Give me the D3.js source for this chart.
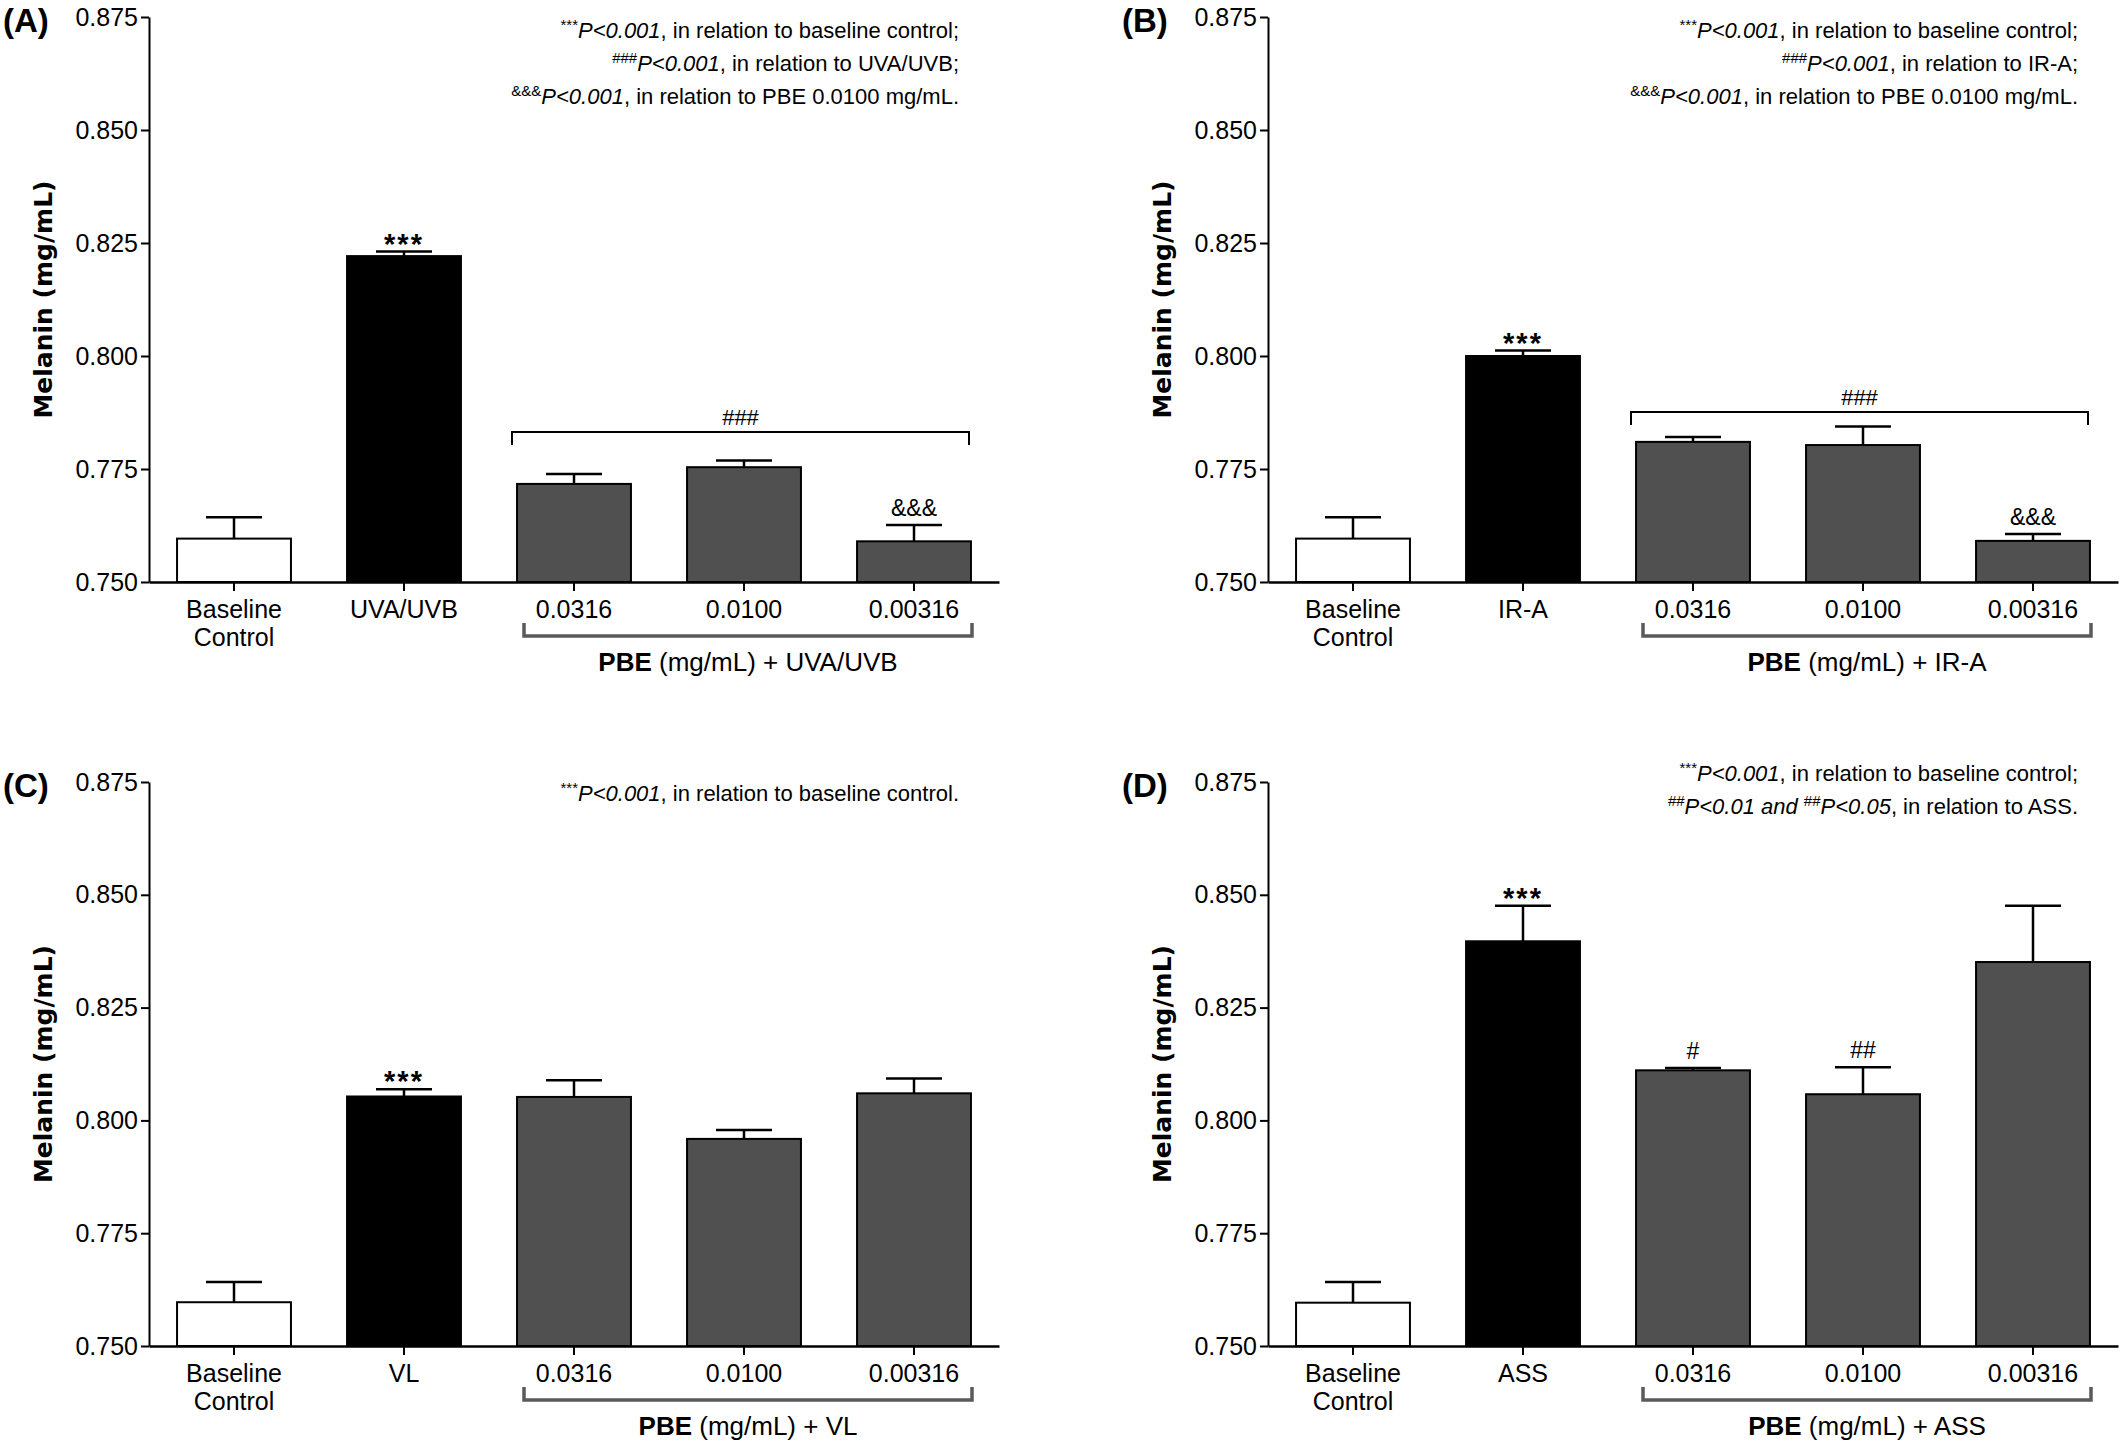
<!DOCTYPE html>
<html><head><meta charset="utf-8">
<script src="https://cdn.jsdelivr.net/npm/d3@7"></script>
<style>
body{margin:0;background:#fff}
text{fill:#000}
</style>
</head><body>
<svg id="chart" width="2128" height="1445"></svg>
<script>
// ---------- data ----------
const yTicks = [0.750, 0.775, 0.800, 0.825, 0.850, 0.875];

const categoriesA = ["Baseline|Control", "UVA/UVB", "0.0316", "0.0100", "0.00316"];
const valuesA = [0.7596, 0.8221, 0.7717, 0.7754, 0.7590];
const errorsA = [0.0047, 0.0010, 0.0022, 0.0015, 0.0036];

const categoriesB = ["Baseline|Control", "IR-A", "0.0316", "0.0100", "0.00316"];
const valuesB = [0.7596, 0.8000, 0.7810, 0.7803, 0.7591];
const errorsB = [0.0047, 0.0012, 0.0011, 0.0041, 0.0015];

const categoriesC = ["Baseline|Control", "VL", "0.0316", "0.0100", "0.00316"];
const valuesC = [0.7597, 0.8053, 0.8052, 0.7959, 0.8060];
const errorsC = [0.0045, 0.0016, 0.0037, 0.0020, 0.0033];

const categoriesD = ["Baseline|Control", "ASS", "0.0316", "0.0100", "0.00316"];
const valuesD = [0.7596, 0.8397, 0.8111, 0.8058, 0.8351];
const errorsD = [0.0046, 0.0079, 0.0005, 0.0060, 0.0125];

const markersA = [{bar: 1, text: "***"}, {bar: 4, text: "&&&"}];
const markersB = [{bar: 1, text: "***"}, {bar: 4, text: "&&&"}];
const markersC = [{bar: 1, text: "***"}];
const markersD = [{bar: 1, text: "***"}, {bar: 2, text: "#"}, {bar: 3, text: "##"}];

const bracketLevelA = 0.7832;
const bracketLevelB = 0.7876;

// annotation lines: [kind, text] where kind = s (superscript), i (italic), n (normal)
const notesA = [
  [["s","***"],["i","P<0.001"],["n",", in relation to baseline control;"]],
  [["s","###"],["i","P<0.001"],["n",", in relation to UVA/UVB;"]],
  [["s","&&&"],["i","P<0.001"],["n",", in relation to PBE 0.0100 mg/mL."]]
];
const notesB = [
  [["s","***"],["i","P<0.001"],["n",", in relation to baseline control;"]],
  [["s","###"],["i","P<0.001"],["n",", in relation to IR-A;"]],
  [["s","&&&"],["i","P<0.001"],["n",", in relation to PBE 0.0100 mg/mL."]]
];
const notesC = [
  [["s","***"],["i","P<0.001"],["n",", in relation to baseline control."]]
];
const notesD = [
  [["s","***"],["i","P<0.001"],["n",", in relation to baseline control;"]],
  [["s","##"],["i","P<0.01 and "],["s","##"],["i","P<0.05"],["n",", in relation to ASS."]]
];

// ---------- layout / style ----------
const SANS = '"Liberation Sans", Arial, sans-serif';
const WIDE = '"DejaVu Sans", Verdana, sans-serif';
const barFill = ["#ffffff", "#000000", "#505050", "#505050", "#505050"];
const panels = [
  {label:"(A)", x0:149, yTop:17, yBot:582, cats:categoriesA, vals:valuesA, errs:errorsA, markers:markersA, bracket:bracketLevelA, treat:"UVA/UVB", notes:notesA, notesTop:21},
  {label:"(B)", x0:1268, yTop:17, yBot:582, cats:categoriesB, vals:valuesB, errs:errorsB, markers:markersB, bracket:bracketLevelB, treat:"IR-A", notes:notesB, notesTop:21},
  {label:"(C)", x0:149, yTop:782, yBot:1346, cats:categoriesC, vals:valuesC, errs:errorsC, markers:markersC, bracket:null, treat:"VL", notes:notesC, notesTop:19},
  {label:"(D)", x0:1268, yTop:782, yBot:1346, cats:categoriesD, vals:valuesD, errs:errorsD, markers:markersD, bracket:null, treat:"ASS", notes:notesD, notesTop:-1}
];
const plotW = 850;

const svg = d3.select("#chart");
svg.append("rect").attr("width",2128).attr("height",1445).attr("fill","#fff");

function txt(sel){ return sel.style("font-family", SANS); }

panels.forEach(p => {
  const g = svg.append("g");
  const x = d3.scaleBand().domain(p.cats).range([p.x0, p.x0 + plotW]).paddingInner(0.33).paddingOuter(0.165);
  const y = d3.scaleLinear().domain([0.75, 0.875]).range([p.yBot, p.yTop]);
  const bw = x.bandwidth();
  const cx = c => x(c) + bw / 2;

  // bars
  g.selectAll("rect.bar").data(p.cats).join("rect")
    .attr("x", d => x(d)).attr("width", bw)
    .attr("y", (d,i) => y(p.vals[i]))
    .attr("height", (d,i) => y(0.75) - y(p.vals[i]))
    .attr("fill", (d,i) => barFill[i])
    .attr("stroke", "#000").attr("stroke-width", 2);

  // error bars (upper)
  p.cats.forEach((c,i) => {
    const top = y(p.vals[i] + p.errs[i]);
    g.append("line").attr("x1", cx(c)).attr("x2", cx(c)).attr("y1", y(p.vals[i])).attr("y2", top)
      .attr("stroke","#000").attr("stroke-width",2.5);
    g.append("line").attr("x1", cx(c)-28).attr("x2", cx(c)+28).attr("y1", top).attr("y2", top)
      .attr("stroke","#000").attr("stroke-width",2.5);
  });

  // y axis
  const ya = g.append("g").attr("transform", `translate(${p.x0},0)`)
    .call(d3.axisLeft(y).tickValues(yTicks).tickFormat(d3.format(".3f")).tickSize(8).tickSizeOuter(0).tickPadding(3));
  ya.select(".domain").attr("stroke","#000").attr("stroke-width",2);
  ya.selectAll(".tick line").attr("stroke","#000").attr("stroke-width",2);
  ya.selectAll(".tick text").attr("font-size",25).style("font-family", SANS).attr("fill","#000");

  // x axis
  const xa = g.append("g").attr("transform", `translate(0,${p.yBot})`)
    .call(d3.axisBottom(x).tickSize(9).tickSizeOuter(0).tickFormat(""));
  xa.select(".domain").attr("stroke","#000").attr("stroke-width",2.5);
  xa.selectAll(".tick line").attr("stroke","#000").attr("stroke-width",2);

  // category labels
  p.cats.forEach(c => {
    const t = txt(g.append("text")).attr("text-anchor","middle").attr("font-size",25);
    c.split("|").forEach((s,k) => {
      t.append("tspan").attr("x", cx(c)).attr("y", p.yBot + 36 + k*28).text(s);
    });
  });

  // lower group bracket
  const c3 = cx(p.cats[2]), c5 = cx(p.cats[4]);
  const bx1 = c3 - 50, bx2 = c5 + 58;
  g.append("path")
    .attr("d", `M${bx1},${p.yBot+41}V${p.yBot+54}H${bx2}V${p.yBot+41}`)
    .attr("fill","none").attr("stroke","#5a5a5a").attr("stroke-width",3.5);
  const lab = txt(g.append("text")).attr("text-anchor","middle").attr("x",(bx1+bx2)/2).attr("y",p.yBot+89).attr("font-size",26);
  lab.append("tspan").attr("font-weight","bold").text("PBE");
  lab.append("tspan").text(" (mg/mL) + " + p.treat);

  // significance bracket over PBE bars
  if (p.bracket !== null) {
    const by = y(p.bracket);
    const sx1 = c3 - 62, sx2 = c5 + 55;
    g.append("path").attr("d", `M${sx1},${by+13}V${by}H${sx2}V${by+13}`)
      .attr("fill","none").attr("stroke","#000").attr("stroke-width",2);
    txt(g.append("text")).attr("text-anchor","middle").attr("x",(sx1+sx2)/2).attr("y",by-7)
      .attr("font-size",22).text("###");
  }

  // markers above bars
  p.markers.forEach(m => {
    const c = p.cats[m.bar];
    const top = y(p.vals[m.bar] + p.errs[m.bar]);
    const isStar = m.text.startsWith("*");
    txt(g.append("text")).attr("text-anchor","middle").attr("x", cx(c))
      .attr("y", isStar ? top + 2 : top - 9)
      .attr("font-size", isStar ? 29 : 23)
      .attr("font-weight", isStar ? "bold" : "normal")
      .attr("letter-spacing", isStar ? 2 : 0)
      .text(m.text);
  });

  // y title
  g.append("text").attr("transform", `translate(${p.x0-106},${(p.yTop+p.yBot)/2}) rotate(-90)`)
    .attr("text-anchor","middle").attr("dominant-baseline","central")
    .style("font-family", WIDE).attr("font-weight","bold").attr("font-size",25)
    .text("Melanin (mg/mL)");

  // panel label
  txt(g.append("text")).attr("x", p.x0 - 146).attr("y", p.yTop + 15)
    .attr("font-weight","bold").attr("font-size",33).text(p.label);

  // notes
  p.notes.forEach((line, li) => {
    const t = txt(g.append("text")).attr("text-anchor","end").attr("x", p.x0 + plotW - 40)
      .attr("y", p.yTop + p.notesTop + li*33).attr("font-size",22);
    let shifted = false;
    line.forEach(([k, s]) => {
      const ts = t.append("tspan").text(s);
      if (k === "s") {
        ts.attr("font-size",15).attr("dy", shifted ? 0 : -8);
        shifted = true;
      } else {
        if (shifted) { ts.attr("dy", 8); shifted = false; }
        if (k === "i") ts.attr("font-style","italic");
      }
    });
  });
});
</script>
</body></html>
